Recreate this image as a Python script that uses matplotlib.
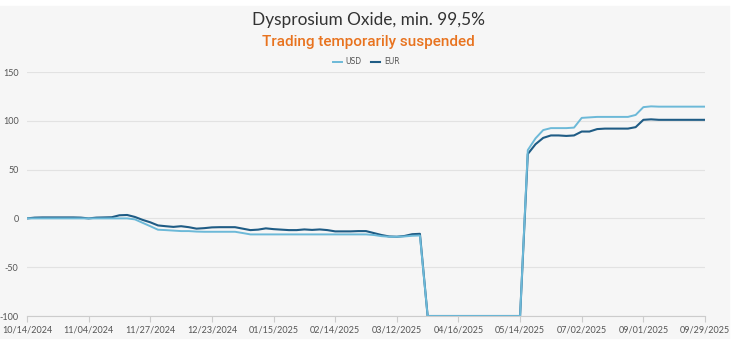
import matplotlib.pyplot as plt
from matplotlib.patches import Rectangle

# Price change in % since the start date, sampled on an evenly spaced index
tick_labels = ['10/14/2024', '11/04/2024', '11/27/2024', '12/23/2024', '01/15/2025',
               '02/14/2025', '03/12/2025', '04/16/2025', '05/14/2025', '07/02/2025',
               '09/01/2025', '09/29/2025']
steps_per_label = 8

eur = [0, 0.8, 1, 1, 1, 1, 1, 0.8, 0, 0.8,
       1, 1.2, 3.2, 3.5, 1.5, -1.5, -4, -7.2, -8, -8.7,
       -8, -9, -10.5, -10, -9.2, -9, -9, -9, -10.5, -12,
       -11.5, -10.2, -11, -11.5, -12, -12, -11.3, -11.8, -11.3, -12,
       -13.3, -13.3, -13.3, -13, -13, -15, -17, -18.5, -18.8, -18,
       -16.2, -15.8, -100, -100, -100, -100, -100, -100, -100, -100,
       -100, -100, -100, -100, -100, 66, 76, 82.5, 85, 85,
       84.5, 85, 89, 89, 91.5, 92, 92, 92, 92, 93.5,
       101, 101.5, 101, 101, 101, 101, 101, 101, 101]

usd = [0, 0, 0, 0, 0, 0, 0, 0, 0, 0,
       0, 0, 0, 0, -1, -4.5, -8, -11.6, -12, -12.5,
       -13, -13, -13.5, -13.7, -13.7, -13.7, -13.7, -13.7, -15, -16.4,
       -16.4, -16.4, -16.4, -16.4, -16.4, -16.4, -16.4, -16.4, -16.4, -16.4,
       -16.4, -16.4, -16.4, -16.4, -16.4, -17, -18.2, -18.8, -18.8, -18.5,
       -17.8, -17.5, -100, -100, -100, -100, -100, -100, -100, -100,
       -100, -100, -100, -100, -100, 70, 82, 90.5, 92.5, 92.5,
       92.5, 93, 103, 103.5, 104, 104, 104, 104, 104, 106,
       114, 114.8, 114.5, 114.5, 114.5, 114.5, 114.5, 114.5, 114.5]

y_ticks = [-100, -50, 0, 50, 100, 150]

usd_color = '#6cb9d8'
eur_color = '#1f5c85'
bg = '#f6f6f6'

fig = plt.figure(figsize=(7.37, 3.44), dpi=100)
fig.patch.set_facecolor('white')
fig.patches.append(Rectangle((0, 6 / 344), 729 / 737, 332 / 344,
                             transform=fig.transFigure, color=bg, zorder=-10))

ax = fig.add_axes([27 / 737, 1 - 316 / 344, 678 / 737, 244 / 344])
ax.set_facecolor(bg)

x = list(range(len(eur)))
ax.plot(x, usd, color=usd_color, lw=1.4, label='USD', zorder=3,
        solid_joinstyle='round')
ax.plot(x, eur, color=eur_color, lw=1.5, label='EUR', zorder=2,
        solid_joinstyle='round')

ax.set_xlim(0, len(eur) - 1)
ax.set_ylim(-100, 150)
ax.set_xticks(range(0, len(eur), steps_per_label))
ax.set_xticklabels(tick_labels, fontsize=6.5, color='#555555', family='Lato')
ax.set_yticks(y_ticks)
ax.set_yticklabels([str(v) for v in y_ticks], fontsize=6.5, color='#555555', family='Lato')
ax.tick_params(axis='y', length=0, pad=6)
ax.tick_params(axis='x', length=4, color='#cccccc', pad=3)
ax.grid(axis='y', color='#e2e2e2', lw=0.8)
for side in ['top', 'right', 'left']:
    ax.spines[side].set_visible(False)
ax.spines['bottom'].set_color('#cccccc')
ax.spines['bottom'].set_linewidth(0.8)

fig.text(0.5, 1 - 20 / 344, 'Dysprosium Oxide, min. 99,5%', ha='center', va='center',
         fontsize=12.4, color='#333333', family='Lato')
fig.text(0.5, 1 - 42 / 344, 'Trading temporarily suspended', ha='center', va='center',
         fontsize=11, color='#e8731f', family='Roboto', weight='medium')

ax.legend(loc='lower center', bbox_to_anchor=(0.5, 0.995), ncol=2, frameon=False,
          fontsize=5.5, handlelength=1.2, columnspacing=1.2, handletextpad=0.5,
          labelcolor='#555555')

fig.savefig('out.png', dpi=100, facecolor=fig.get_facecolor())
